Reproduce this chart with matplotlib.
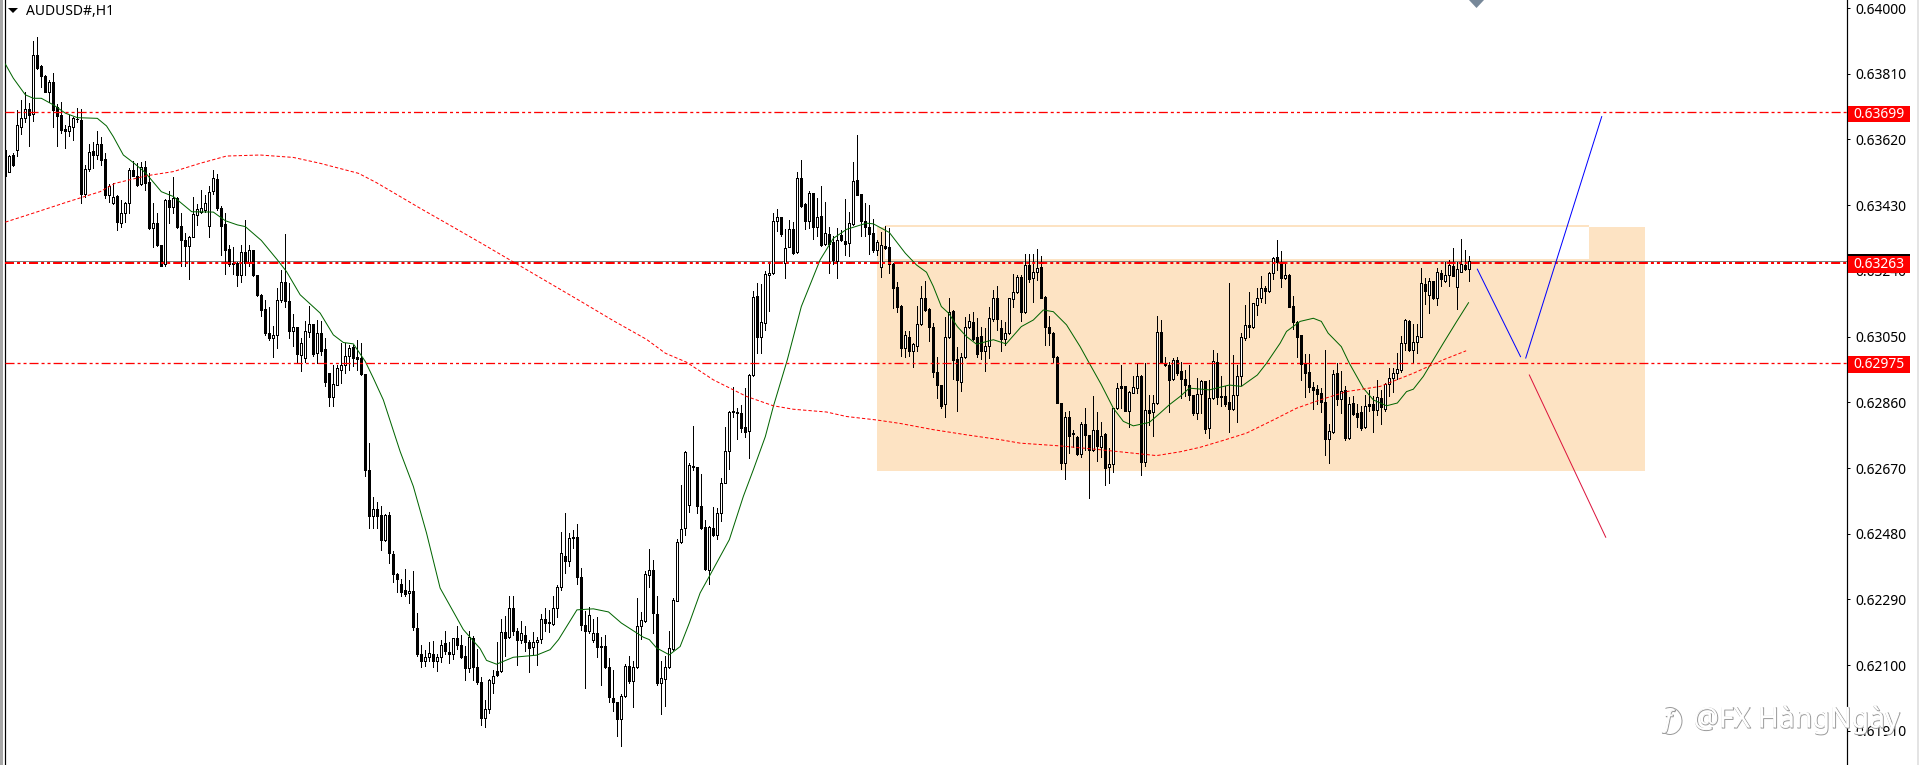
import matplotlib
matplotlib.use("Agg")
import matplotlib.pyplot as plt
from matplotlib.patches import Rectangle, Polygon, Arc
from matplotlib.transforms import IdentityTransform
from matplotlib import patheffects as pe

plt.rcParams['lines.scale_dashes'] = False
plt.rcParams['font.family'] = ['Noto Sans', 'DejaVu Sans']

SYMBOL = "AUDUSD#,H1"
WATERMARK = "@FX HàngNgày"
PRICE_BASE = 0.6
PRICE_UNIT = 1e-5   # the lists below are prices as 0.6 + v * 1e-5

opens = [3590,3527,3574,3590,3657,3681,3707,3693,3864,3832,3803,3758,3787,3713,3691,3649,3645,3657,3678,3676,
3463,3534,3586,3575,3607,3564,3460,3436,3457,3378,3407,3436,3532,3515,3490,3540,3498,3365,3378,3315,
3259,3445,3426,3452,3370,3330,3313,3339,3402,3411,3416,3371,3472,3506,3421,3376,3304,3264,3262,3227,
3294,3262,3301,3229,3171,3129,3060,3046,3055,3156,3207,3153,3065,3077,2997,2988,3063,3087,3002,3060,
3014,2944,2875,2911,2954,2968,2995,3020,2991,2988,2942,2665,2532,2551,2535,2461,2535,2422,2365,2336,
2318,2308,2315,2208,2132,2111,2123,2132,2111,2124,2164,2138,2132,2179,2157,2126,2092,2179,2095,2051,
1947,1973,2049,2082,2082,2196,2181,2265,2198,2172,2188,2167,2153,2166,2176,2233,2224,2219,2265,2326,
2416,2400,2467,2470,2355,2217,2198,2172,2193,2155,2155,2095,2005,1994,1945,2010,2097,2053,2094,2212,
2227,2361,2376,2249,2049,2060,2095,2147,2287,2456,2496,2562,2676,2673,2561,2499,2376,2496,2477,2540,
2628,2718,2832,2833,2829,2788,2776,2939,3168,3050,3089,3228,3233,3385,3395,3264,3310,3360,3296,3508,
3432,3385,3464,3368,3399,3317,3347,3323,3270,3344,3327,3320,3376,3503,3462,3384,3368,3349,3301,3252,
3312,3308,3260,3193,3139,3018,3050,3007,3024,3086,3161,3130,3079,2949,2909,2855,3048,3124,2985,2920,
2990,3079,3093,3049,3052,3007,3024,3101,3161,3074,3043,3060,3160,3178,3223,3120,3257,3219,3238,3250,
3164,3079,3060,2990,2858,2684,2817,2771,2761,2710,2798,2766,2723,2779,2732,2769,2672,2681,2843,2906,
2906,2834,2888,2901,2937,2687,2838,2831,2858,3063,2975,2968,2927,2981,2951,2928,2909,2880,2829,2884,
2922,2785,2872,2978,2879,2877,2861,2841,2880,2935,3045,3084,3079,3142,3163,3190,3183,3233,3279,3267,
3219,3228,3139,3093,3055,2971,2947,2904,2898,2886,2862,2754,2773,2944,2869,2896,2758,2858,2829,2833,
2790,2856,2856,2838,2872,2840,2912,2931,2946,2954,3031,3096,3010,3034,3050,3202,3169,3211,3163,3233,
3212,3228,3254,3192,3238,3257,3245]

highs = [3609,3575,3580,3705,3734,3758,3724,3905,3915,3835,3806,3792,3811,3723,3729,3662,3691,3686,3710,3707,
3546,3606,3614,3645,3628,3580,3491,3495,3460,3445,3440,3537,3559,3551,3556,3558,3522,3436,3407,3315,
3448,3471,3511,3455,3407,3349,3341,3455,3434,3474,3460,3484,3532,3520,3428,3407,3315,3310,3267,3315,
3387,3315,3301,3229,3174,3156,3137,3081,3190,3243,3347,3204,3116,3079,3046,3094,3139,3087,3097,3094,
3046,2944,2968,2968,3031,3031,3026,3026,3041,3031,2942,2742,2586,2571,2561,2538,2543,2429,2368,2349,
2378,2347,2373,2251,2157,2143,2167,2169,2133,2172,2198,2167,2179,2212,2188,2155,2198,2184,2147,2066,
2000,2061,2087,2168,2234,2241,2301,2301,2207,2229,2214,2172,2196,2183,2249,2265,2260,2299,2333,2485,
2540,2482,2492,2509,2381,2256,2268,2233,2239,2181,2188,2121,2087,1994,2017,2104,2128,2111,2294,2254,
2371,2437,2405,2301,2113,2126,2200,2294,2466,2622,2720,2684,2792,2674,2653,2520,2503,2557,2554,2641,
2790,2835,2903,2843,2853,2901,2942,3182,3204,3202,3240,3267,3406,3419,3397,3360,3387,3382,3527,3561,
3435,3471,3466,3450,3485,3438,3366,3341,3363,3358,3447,3411,3554,3633,3462,3435,3431,3389,3328,3351,
3371,3363,3262,3207,3142,3065,3065,3031,3139,3195,3211,3132,3089,2990,2911,3108,3161,3127,3019,3002,
3108,3116,3122,3103,3079,3074,3137,3185,3195,3098,3093,3161,3231,3228,3228,3288,3288,3288,3303,3284,
3168,3110,3062,2995,2859,2831,2836,2781,2763,2802,2843,2766,2879,2833,2803,2771,2728,2845,2915,2968,
2908,2893,2937,2975,2939,2973,2882,2882,3110,3098,2990,2978,2988,2992,2976,2954,2968,2880,2930,2925,
2923,2925,3012,3004,2935,2906,3204,2997,2968,3060,3142,3178,3148,3190,3225,3195,3238,3279,3329,3298,
3267,3231,3168,3096,3055,3000,3000,2920,2911,2901,3010,2798,2954,2973,2952,2906,2875,2877,2856,2848,
2882,2896,2877,2925,2896,2915,2959,2959,3002,3052,3100,3098,3086,3087,3248,3219,3219,3211,3248,3243,
3267,3272,3307,3267,3332,3301,3283]

lows = [3513,3525,3544,3573,3636,3671,3602,3674,3823,3773,3756,3729,3657,3602,3638,3596,3630,3619,3671,3436,
3455,3530,3537,3563,3546,3450,3440,3434,3359,3366,3380,3407,3513,3486,3489,3474,3360,3310,3312,3253,
3255,3378,3407,3363,3253,3253,3216,3337,3373,3407,3409,3337,3463,3416,3286,3231,3253,3231,3195,3209,
3229,3253,3224,3168,3110,3055,3041,2990,3017,3151,3135,3046,3022,2978,2952,2978,3050,2993,2973,2997,
2906,2848,2850,2911,2916,2946,2954,2964,2954,2940,2648,2497,2497,2496,2434,2459,2395,2342,2313,2299,
2299,2280,2201,2126,2095,2097,2111,2095,2082,2108,2131,2106,2118,2147,2121,2056,2079,2058,2046,1928,
1920,1962,2020,2070,2079,2126,2178,2188,2100,2164,2140,2079,2133,2100,2164,2198,2197,2217,2239,2318,
2368,2388,2439,2336,2201,2034,2193,2166,2123,2044,2092,1993,1967,1894,1866,2008,2050,1979,2092,2176,
2224,2326,2193,2044,1959,1981,2093,2143,2287,2453,2477,2544,2663,2540,2493,2376,2335,2474,2465,2518,
2626,2668,2817,2753,2774,2759,2698,2935,3002,3004,3069,3125,3231,3356,3341,3219,3308,3289,3293,3426,
3360,3363,3331,3341,3312,3315,3235,3260,3219,3325,3286,3283,3373,3458,3341,3341,3289,3296,3286,3221,
3302,3235,3132,3122,2995,2992,2994,2962,3007,3084,3124,3036,2933,2872,2843,2817,3047,2927,2834,2893,
2988,3074,3041,2992,2986,2952,2989,3096,3069,3007,3026,3058,3137,3175,3096,3118,3209,3151,3214,3161,
3026,3026,2978,2858,2668,2638,2713,2730,2708,2703,2723,2583,2718,2689,2703,2621,2626,2660,2840,2843,
2834,2790,2886,2886,2650,2676,2795,2764,2856,2975,2965,2831,2925,2939,2872,2877,2867,2824,2812,2829,
2771,2758,2869,2856,2850,2848,2773,2838,2802,2909,3039,3048,3074,3113,3151,3148,3180,3217,3243,3192,
3217,3135,3071,2992,2925,2874,2891,2841,2856,2832,2708,2686,2771,2853,2829,2750,2755,2824,2790,2781,
2785,2836,2773,2824,2798,2836,2877,2891,2927,2949,3010,3007,2976,3004,3048,3145,3118,3159,3142,3197,
3209,3195,3225,3131,3238,3243,3212]

closes = [3513,3572,3547,3662,3681,3707,3692,3864,3826,3803,3758,3787,3705,3689,3647,3645,3659,3681,3680,3463,
3534,3583,3575,3607,3561,3458,3484,3455,3380,3407,3437,3532,3513,3489,3541,3495,3363,3378,3315,3255,
3445,3424,3450,3366,3328,3313,3339,3404,3418,3421,3436,3469,3508,3421,3371,3301,3259,3260,3227,3294,
3262,3301,3229,3171,3127,3060,3046,3055,3156,3209,3154,3065,3077,3000,3031,3065,3087,3000,3060,3007,
2920,2875,2914,2959,2968,2993,3017,2988,2986,2942,2663,2530,2551,2532,2461,2535,2424,2363,2350,2311,
2307,2315,2210,2131,2111,2123,2135,2111,2124,2157,2140,2132,2179,2157,2123,2092,2182,2095,2051,1947,
1973,2058,2068,2073,2196,2180,2265,2198,2174,2193,2166,2150,2166,2172,2233,2222,2222,2265,2326,2424,
2400,2467,2472,2354,2215,2198,2246,2193,2153,2153,2094,2007,1993,1945,2010,2097,2053,2095,2212,2230,
2363,2376,2251,2050,2063,2095,2150,2289,2456,2493,2716,2679,2672,2559,2498,2378,2499,2477,2540,2626,
2718,2833,2835,2828,2787,2773,2939,3164,3050,3093,3231,3233,3384,3395,3346,3305,3360,3293,3508,3429,
3385,3464,3368,3397,3315,3349,3318,3272,3329,3328,3317,3378,3500,3459,3384,3366,3347,3299,3323,3315,
3307,3259,3190,3137,3018,3054,3009,3028,3086,3161,3127,3079,2949,2909,2848,3050,3122,2981,2925,2992,
3079,3094,3043,3001,3007,3023,3103,3161,3100,3043,3060,3161,3178,3221,3120,3256,3217,3238,3248,3163,
3077,3060,2992,2859,2686,2817,2764,2769,2711,2798,2765,2723,2779,2734,2764,2670,2681,2843,2901,2901,
2834,2891,2904,2937,2687,2838,2829,2858,3063,2978,2968,2925,2983,2946,2928,2909,2880,2829,2884,2922,
2783,2872,2980,2875,2875,2856,2841,2882,2935,3048,3084,3079,3146,3161,3190,3183,3233,3276,3265,3219,
3228,3137,3093,3050,2970,2944,2903,2896,2885,2862,2754,2776,2942,2869,2894,2756,2856,2827,2819,2785,
2848,2850,2838,2875,2846,2912,2930,2944,2956,3031,3098,3012,3034,3052,3204,3183,3211,3161,3236,3216,
3227,3257,3226,3246,3259,3246,3269]

fast_ma_bar = [0,2,5,7,9,12,15,18,23,25.3,27,29.5,32,35,39,42,46.6,52,55,58,60,64,68,70.3,73.7,78.7,82,84.5,87,90,92,94.5,98.7,102,105.3,108.7,114.5,118.7,
120.3,122.8,127,132.8,136.2,138.3,142.9,147,150.8,154,159.5,161,162.8,166,168.7,171,173.7,176,181,184.5,187,190,192,195.5,199,203.7,207,210.3,215.3,217,221,225,227.8,230.3,232,234,235.8,238,240.3,242.8,247,250.2,254,257,259.5,262,265.3,268.7,271,274,277,279.5,282,286,288.7,291,293.7,
296,301,306,309,313,315.3,318.7,320.3,323.7,327,329,330.7,334,336,339.5,342,345.3,348,350.3,352,354.5,357,359.5,362.8,365.8]
fast_ma_val = [3838,3797,3749,3739,3739,3720,3696,3683,3681,3659,3628,3575,3553,3524,3469,3455,3411,3410,3385,3373,3368,3328,3272,3238,3171,3118,3055,3033,3029,2978,2930,2867,2718,2617,2482,2323,2203,2148,
2114,2103,2123,2129,2145,2174,2260,2263,2254,2222,2181,2174,2150,2130,2154,2222,2309,2357,2463,2588,2665,2761,2848,2983,3137,3272,3334,3360,3378,3376,3351,3291,3257,3236,3195,3137,3118,3079,3050,3028,3041,3029,3079,3098,3127,3122,3084,3021,2973,2911,2843,2805,2792,2802,2829,2853,2877,
2901,2896,2910,2906,2939,2973,3031,3065,3094,3103,3094,3060,3021,2973,2901,2867,2850,2858,2891,2898,2935,2983,3031,3093,3148]

slow_ma_bar = [0,7,15.7,23.7,27.4,35.3,42,48.7,55.3,63.7,72,78.7,88.3,92.8,98.7,103.7,111,118.7,144,152,160.3,165,170.3,177,185.3,192,197,205.3,210.3,217.8,223.7,232,240.3,248.7,253.7,263.7,273.7,282,287.8,293.7,298.7,304.5,310.3,317,322.8,328.7,335.3,343.7,352,359.5,365.2]
slow_ma_val = [3381,3407,3440,3469,3493,3515,3527,3551,3572,3575,3568,3551,3522,3495,3455,3421,3373,3322,3151,3096,3042,3002,2976,2925,2877,2850,2840,2832,2819,2809,2799,2781,2766,2752,2742,2734,2723,2713,2706,2717,2730,2750,2771,2809,2843,2867,2891,2906,2944,2983,3009]

level_prices = [0.63699, 0.63263, 0.62975]
bid_price = 0.63268
tick_prices = [0.64000,0.63810,0.63620,0.63430,0.63240,0.63050,0.62860,0.62670,0.62480,0.62290,0.62100,0.61910]

zone_bars = [217.9, 409.9]
zone_prices = [0.62661, 0.63368]
gap_bars = [219.9, 395.9]
gap_prices = [0.63274, 0.63368]
gap_top_line = [0.63368, 0.63373]

blue_down_bar, blue_down_val = [368, 378.8], [3245, 2992]
blue_up_bar, blue_up_val = [380.1, 399.1], [2988, 3686]
crimson_bar, crimson_val = [381, 400.1], [2939, 2470]

W, H = 1919, 765
PX = 0.72  # one pixel, in points, at dpi 100
ORANGE = '#FDE3C3'

def price(vals):
    return [PRICE_BASE + v * PRICE_UNIT for v in vals]

fig = plt.figure(figsize=(W / 100, H / 100), dpi=100, facecolor='white')
ax = fig.add_axes([5 / W, 0, (1847 - 5) / W, 1])
ax.set_xlim((5 - 5.33) / 4, (1847 - 5.33) / 4)
ax.set_ylim(0.64 - (765 - 8) * 2.891e-5, 0.64 + 8 * 2.891e-5)
ax.set_facecolor('white')

# zones
ax.add_patch(Rectangle((zone_bars[0], zone_prices[0]), zone_bars[1] - zone_bars[0], zone_prices[1] - zone_prices[0],
                       fc=ORANGE, ec='none', zorder=1))
ax.add_patch(Rectangle((gap_bars[0], gap_top_line[0]), gap_bars[1] - gap_bars[0], gap_top_line[1] - gap_top_line[0],
                       fc=ORANGE, ec='none', zorder=1))
ax.add_patch(Rectangle((gap_bars[0], gap_prices[0]), gap_bars[1] - gap_bars[0], gap_prices[1] - gap_prices[0],
                       fc='white', ec='none', zorder=1.1))

# candles
O, Hi, Lo, C = price(opens), price(highs), price(lows), price(closes)
idx = list(range(len(O)))
ax.vlines(idx, Lo, Hi, colors='black', linewidth=PX, zorder=3, antialiased=False)
for i in idx:
    up = C[i] >= O[i]
    bottom, top = min(O[i], C[i]), max(O[i], C[i])
    ax.add_patch(Rectangle((i - 0.25, bottom), 0.5, top - bottom, fc='white' if up else 'black', ec='black',
                           lw=PX, zorder=3.1, antialiased=False))

# moving averages
ax.plot(fast_ma_bar, price(fast_ma_val), color='#006400', lw=PX, zorder=4)
ax.plot(slow_ma_bar, price(slow_ma_val), color='#ff0000', lw=PX, zorder=4, linestyle=(0, (2.4, 1.5)))

# levels
ax.axhline(bid_price, color='#808080', lw=PX, zorder=2)
for p, lw in zip(level_prices, [1.3 * PX, 2 * PX, 1.3 * PX]):
    ax.axhline(p, color='#ff0000', lw=lw, zorder=5,
               linestyle=(0, (6.5, 2.16, 2.16, 2.16, 2.16, 2.16)))

# projected paths
ax.plot(blue_down_bar, price(blue_down_val), color='#0000ff', lw=PX, zorder=5)
ax.plot(blue_up_bar, price(blue_up_val), color='#0000ff', lw=PX, zorder=5)
ax.plot(crimson_bar, price(crimson_val), color='#dc143c', lw=PX, zorder=5)

# axes
ax.set_xticks([])
ax.yaxis.tick_right()
ax.set_yticks(tick_prices)
ax.set_yticklabels([f"{t:.5f}" for t in tick_prices], fontsize=10, color='black')
ax.tick_params(axis='y', direction='out', length=2.5, width=PX, pad=3.5, color='black')
for s in ['top', 'bottom']:
    ax.spines[s].set_visible(False)
for s in ['left', 'right']:
    ax.spines[s].set_linewidth(PX * 1.2)
    ax.spines[s].set_color('black')

pix = IdentityTransform()
def px_rect(x0, y0_top, x1, y1_top, color, z=5):
    fig.add_artist(Rectangle((x0, H - y1_top), x1 - x0, y1_top - y0_top, fc=color, ec='none',
                             transform=pix, zorder=z))

# window edges
px_rect(0, 0, 3, H, '#a8a8a8')
px_rect(1917, 0, 1919, H, '#e4e4e4')

# price labels on the axis
for p in level_prices:
    y_top = 8 + (0.64 - p) / 2.891e-5
    px_rect(1848, y_top - 6.5, 1910, y_top + 10.2, '#ff0000')
    fig.text(1853 / W, 1 - (y_top + 2.0) / H, f"{p:.5f}", color='white', fontsize=10, va='center', ha='left', zorder=6)
y_cur = 8 + (0.64 - level_prices[1]) / 2.891e-5
px_rect(1848, y_cur - 9.2, 1910, y_cur - 6.5, 'black')

# chart title with its triangle
fig.add_artist(Polygon([(8, H - 8), (18, H - 8), (13, H - 13)], closed=True, fc='black', ec='none', transform=pix, zorder=6))
fig.text(26 / W, 1 - 11.5 / H, SYMBOL, color='black', fontsize=10, va='center', ha='left', zorder=6)

# marker at the top edge
fig.add_artist(Polygon([(1469, H), (1484, H), (1476.5, H - 8)], closed=True, fc='#778899', ec='none', transform=pix, zorder=6))

# watermark
emboss = [pe.Stroke(linewidth=0.7, foreground='#999999', offset=(0.6, -0.6)), pe.Normal()]
fig.text(1693 / W, 1 - 719.5 / H, WATERMARK, color='white', fontsize=20.5, va='center', ha='left', zorder=7,
         path_effects=emboss)
fig.add_artist(Arc((1670, H - 721), 24, 27, theta1=-120, theta2=110, ec='#999999', lw=0.7, transform=pix, zorder=7))
fig.text(1668 / W, 1 - 721 / H, "f", color='white', fontsize=17, va='center', ha='center', zorder=8,
         style='italic', path_effects=emboss)

fig.savefig('out.png', dpi=100, facecolor='white')
